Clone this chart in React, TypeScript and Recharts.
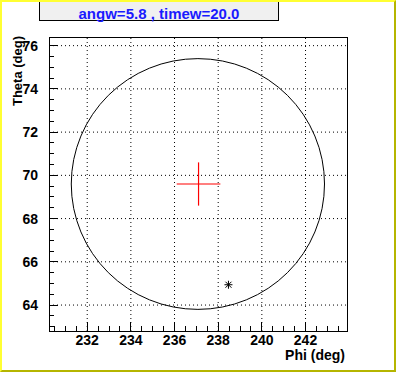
import {
  ComposedChart,
  ErrorBar,
  ReferenceArea,
  ReferenceLine,
  Scatter,
  XAxis,
  YAxis,
} from "recharts";

// axis ranges and labelled ticks (deg)
const PHI_RANGE: [number, number] = [230.25, 243.9];
const THETA_RANGE: [number, number] = [62.8, 76.4];
const PHI_LABELS = [232, 234, 236, 238, 240, 242];
const THETA_LABELS = [64, 66, 68, 70, 72, 74, 76];

// cone drawn as a circle: centre and half-width
const CONE = [{ phi: 237.07, theta: 69.6, r: 5.8 }];
// reconstructed direction with its errors (red cross)
const CENTRE = [{ phi: 237.1, theta: 69.6, dphi: 1.0, dtheta: 1.0 }];
// true direction (asterisk)
const HIT = [{ phi: 238.47, theta: 64.94 }];

const FONT = "'Liberation Sans', Arial, Helvetica, sans-serif";
const LABEL = { fontFamily: FONT, fontSize: 14, fontWeight: 700, fill: "#000" };

// half-degree minor ticks across a range
function halfSteps([lo, hi]: [number, number]) {
  const out: number[] = [];
  for (let v = Math.ceil(lo * 2) / 2; v <= hi; v += 0.5) out.push(v);
  return out;
}

function XTick({ x, y, payload }: any) {
  const major = PHI_LABELS.includes(payload.value);
  return (
    <g>
      <line x1={x} x2={x} y1={y} y2={y - (major ? 9 : 5)} stroke="#000" shapeRendering="crispEdges" />
      {major && (
        <text x={x} y={y + 14} textAnchor="middle" style={LABEL}>
          {payload.value}
        </text>
      )}
    </g>
  );
}

function YTick({ x, y, payload }: any) {
  const major = THETA_LABELS.includes(payload.value);
  return (
    <g>
      <line x1={x} x2={x + (major ? 9 : 5)} y1={y} y2={y} stroke="#000" shapeRendering="crispEdges" />
      {major && (
        <text x={x - 11} y={y + 5} textAnchor="end" style={LABEL}>
          {payload.value}
        </text>
      )}
    </g>
  );
}

function Ring({ x, y, width, height }: any) {
  return (
    <ellipse
      cx={x + width / 2}
      cy={y + height / 2}
      rx={width / 2}
      ry={height / 2}
      fill="none"
      stroke="#000"
      strokeWidth={1}
    />
  );
}

function Asterisk({ cx, cy }: any) {
  const s = 4;
  return (
    <g stroke="#000" strokeWidth={1}>
      <line x1={cx - s} x2={cx + s} y1={cy} y2={cy} />
      <line x1={cx} x2={cx} y1={cy - s} y2={cy + s} />
      <line x1={cx - 3} x2={cx + 3} y1={cy - 3} y2={cy + 3} />
      <line x1={cx - 3} x2={cx + 3} y1={cy + 3} y2={cy - 3} />
    </g>
  );
}

export default function App() {
  const cone = CONE[0];
  return (
    <div
      style={{
        position: "absolute",
        left: 0,
        top: 0,
        width: 396,
        height: 372,
        background: "#fff",
        fontFamily: FONT,
      }}
    >
      <ComposedChart width={396} height={372} margin={{ top: 37, right: 49, bottom: 0, left: 0 }}>
        <XAxis
          type="number"
          dataKey="phi"
          domain={PHI_RANGE}
          allowDataOverflow
          ticks={halfSteps(PHI_RANGE)}
          interval={0}
          tick={(p: any) => <XTick {...p} />}
          tickLine={false}
          axisLine={false}
          tickSize={0}
          tickMargin={0}
          height={41}
        />
        <YAxis
          type="number"
          dataKey="theta"
          domain={THETA_RANGE}
          allowDataOverflow
          ticks={halfSteps(THETA_RANGE)}
          interval={0}
          tick={(p: any) => <YTick {...p} />}
          tickLine={false}
          axisLine={false}
          tickSize={0}
          tickMargin={0}
          width={49}
        />
        {PHI_LABELS.map((v) => (
          <ReferenceLine key={`gx${v}`} x={v} stroke="#000" strokeDasharray="1 3" />
        ))}
        {THETA_LABELS.map((v) => (
          <ReferenceLine key={`gy${v}`} y={v} stroke="#000" strokeDasharray="1 3" />
        ))}
        <ReferenceArea
          x1={cone.phi - cone.r}
          x2={cone.phi + cone.r}
          y1={cone.theta - cone.r}
          y2={cone.theta + cone.r}
          shape={<Ring />}
        />
        <Scatter data={CENTRE} dataKey="theta" shape={() => <g />} isAnimationActive={false}>
          <ErrorBar dataKey="dphi" direction="x" width={0} stroke="#ff0000" strokeWidth={1.2} />
          <ErrorBar dataKey="dtheta" direction="y" width={0} stroke="#ff0000" strokeWidth={1.2} />
        </Scatter>
        <Scatter data={HIT} dataKey="theta" shape={<Asterisk />} isAnimationActive={false} />
        <ReferenceArea
          x1={PHI_RANGE[0]}
          x2={PHI_RANGE[1]}
          y1={THETA_RANGE[0]}
          y2={THETA_RANGE[1]}
          fill="none"
          fillOpacity={0}
          stroke="#000"
          strokeWidth={1}
          shapeRendering="crispEdges"
        />
      </ComposedChart>

      <div
        style={{
          position: "absolute",
          left: 345,
          top: 348,
          transform: "translateX(-100%)",
          whiteSpace: "nowrap",
          fontSize: 14,
          fontWeight: 700,
          lineHeight: "14px",
        }}
      >
        Phi (deg)
      </div>
      <div
        style={{
          position: "absolute",
          left: 10,
          top: 36,
          transformOrigin: "0 0",
          transform: "rotate(-90deg) translateX(-100%)",
          whiteSpace: "nowrap",
          fontSize: 13,
          fontWeight: 700,
          lineHeight: "15px",
        }}
      >
        Theta (deg)
      </div>

      <div
        style={{
          position: "absolute",
          left: 39,
          top: 0,
          width: 240,
          height: 21,
          boxSizing: "border-box",
          background: "#f0f0f0",
          border: "1px solid #000",
          color: "#1a1aff",
          fontSize: 15,
          fontWeight: 700,
          display: "flex",
          alignItems: "center",
          justifyContent: "center",
          paddingTop: 5,
        }}
      >
        angw=5.8 , timew=20.0
      </div>

      <div
        style={{
          position: "absolute",
          inset: 0,
          boxSizing: "border-box",
          borderTop: "2px solid #ffff33",
          borderLeft: "2px solid #ffff33",
          borderBottom: "2px solid #b5b500",
          borderRight: "2px solid #b5b500",
          pointerEvents: "none",
        }}
      />
    </div>
  );
}
